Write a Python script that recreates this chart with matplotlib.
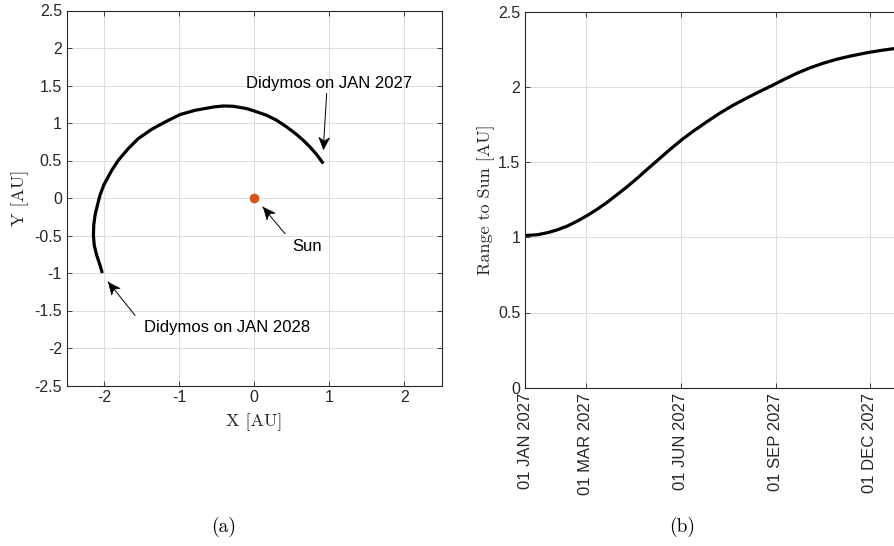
import numpy as np
import matplotlib
matplotlib.use("Agg")
import matplotlib.pyplot as plt
from matplotlib.path import Path
from matplotlib.markers import MarkerStyle
from matplotlib.transforms import Affine2D

plt.rcParams['font.family'] = ['Liberation Sans', 'DejaVu Sans']
plt.rcParams['axes.unicode_minus'] = False

# ---- data: orbit (AU), Jan 2027 -> Jan 2028 ----
orbit_x = [0.92, 0.832, 0.743, 0.653, 0.560, 0.432, 0.299, 0.165, 0.0, -0.101,
           -0.28, -0.413, -0.547, -0.791, -0.991, -1.191, -1.368, -1.547,
           -1.68, -1.813, -1.901, -2.004, -2.058, -2.092, -2.124, -2.141,
           -2.145, -2.134, -2.101, -2.057, -2.027]
orbit_y = [0.459, 0.579, 0.68, 0.769, 0.850, 0.947, 1.036, 1.103, 1.16, 1.192,
           1.223, 1.227, 1.213, 1.169, 1.112, 1.013, 0.916, 0.792,
           0.659, 0.503, 0.369, 0.179, 0.036, -0.097, -0.231, -0.364,
           -0.497, -0.631, -0.764, -0.897, -1.0]
sun_xy = (0.0, 0.0)

# ---- data: range to Sun vs days since 01 JAN 2027 ----
range_days = [0, 12, 22, 31, 41, 51, 60, 70, 80, 89, 99, 109, 118, 128, 140,
              152, 163, 176, 189, 202, 215, 228, 240, 250, 263, 276, 289, 302,
              315, 328, 335, 347, 358, 365]
range_au = [1.012, 1.017, 1.031, 1.049, 1.075, 1.109, 1.144, 1.187, 1.235,
            1.283, 1.337, 1.395, 1.450, 1.510, 1.582, 1.650, 1.706, 1.768,
            1.827, 1.880, 1.927, 1.972, 2.012, 2.047, 2.090, 2.127, 2.158,
            2.184, 2.205, 2.223, 2.232, 2.245, 2.255, 2.260]
date_ticks = ['2027-01-01', '2027-03-01', '2027-06-01', '2027-09-01', '2027-12-01']
date_tick_labels = ['01 JAN 2027', '01 MAR 2027', '01 JUN 2027', '01 SEP 2027', '01 DEC 2027']

xy_ticks = [-2, -1, 0, 1, 2]
xy_yticks = [-2.5, -2, -1.5, -1, -0.5, 0, 0.5, 1, 1.5, 2, 2.5]
range_yticks = [0, 0.5, 1, 1.5, 2, 2.5]

W, H = 895, 546
fig = plt.figure(figsize=(W / 100, H / 100), dpi=100)

dark = '#262626'
gridc = '#dcdcdc'

def style(ax):
    for s in ax.spines.values():
        s.set_color(dark)
        s.set_linewidth(0.8)
    ax.tick_params(direction='in', length=3.5, width=0.6, colors=dark,
                   labelsize=11.5, top=True, right=True, labelcolor=dark)
    ax.grid(True, color=gridc, linewidth=0.7)
    ax.set_axisbelow(True)

dart = Path([(0, 0), (-1, 0.45), (-0.72, 0), (-1, -0.45), (0, 0)],
            [Path.MOVETO, Path.LINETO, Path.LINETO, Path.LINETO, Path.CLOSEPOLY])

def arrow(ax, tail, head):
    ax.plot([tail[0], head[0]], [tail[1], head[1]], color='black', lw=0.7)
    ang = np.degrees(np.arctan2(head[1] - tail[1], head[0] - tail[0]))
    m = MarkerStyle(dart, transform=Affine2D().rotate_deg(ang))
    ax.plot([head[0]], [head[1]], marker=m, ms=17, color='black', mec='black',
            mew=0.5, linestyle='none')

# ---------------- (a) ----------------
ax1 = fig.add_axes([66.8 / W, 1 - 385.5 / H, 375 / W, 375 / H])
style(ax1)
ax1.plot(orbit_x, orbit_y, color='black', lw=2.3, solid_capstyle='butt',
         solid_joinstyle='round')
ax1.plot([sun_xy[0]], [sun_xy[1]], 'o', color='#D95319', ms=6, mec='#D95319')
ax1.set_xlim(-2.5, 2.5)
ax1.set_ylim(-2.5, 2.5)
ax1.set_xticks(xy_ticks)
ax1.set_xticklabels([f'{v:g}' for v in xy_ticks])
ax1.set_yticks(xy_yticks)
ax1.set_yticklabels([f'{v:g}' for v in xy_yticks])
ax1.set_xlabel('X [AU]', family='cmr10', fontsize=13, color=dark)
ax1.set_ylabel('Y [AU]', family='cmr10', fontsize=13, color=dark)
ax1.xaxis.set_label_coords(0.5, -0.075)
ax1.yaxis.set_label_coords(-0.10, 0.5)

arrow(ax1, (0.965, 1.392), (0.92, 0.659))
ax1.text(1.003, 1.525, 'Didymos on JAN 2027', ha='center', va='center', fontsize=12)
arrow(ax1, (0.409, -0.475), (0.112, -0.12))
ax1.text(0.699, -0.653, 'Sun', ha='center', va='center', fontsize=12)
arrow(ax1, (-1.591, -1.564), (-1.947, -1.12))
ax1.text(-0.361, -1.728, 'Didymos on JAN 2028', ha='center', va='center', fontsize=12)

# ---------------- (b) ----------------
ax2 = fig.add_axes([525 / W, 1 - 387.7 / H, 377 / W, 376 / H])
style(ax2)
t0 = np.datetime64('2027-01-01')
dates = t0 + np.array(range_days, dtype='timedelta64[D]')
ax2.plot(dates, range_au, color='black', lw=2.3, solid_joinstyle='round')
ax2.set_xlim(np.datetime64('2027-01-01'), np.datetime64('2028-01-01'))
ax2.set_ylim(0, 2.5)
ax2.set_xticks([np.datetime64(d) for d in date_ticks])
ax2.set_xticklabels(date_tick_labels, rotation=90, fontsize=12)
ax2.set_yticks(range_yticks)
ax2.set_yticklabels([f'{v:g}' for v in range_yticks])
ax2.set_ylabel('Range to Sun [AU]', family='cmr10', fontsize=13, color=dark)
ax2.yaxis.set_label_coords(-0.08, 0.5)

fig.text(223.5 / W, 1 - 526.7 / H, '(a)', family='cmr10', fontsize=14,
         ha='center', va='center')
fig.text(681.7 / W, 1 - 526.7 / H, '(b)', family='cmr10', fontsize=14,
         ha='center', va='center')

fig.savefig('out.png', dpi=100)
